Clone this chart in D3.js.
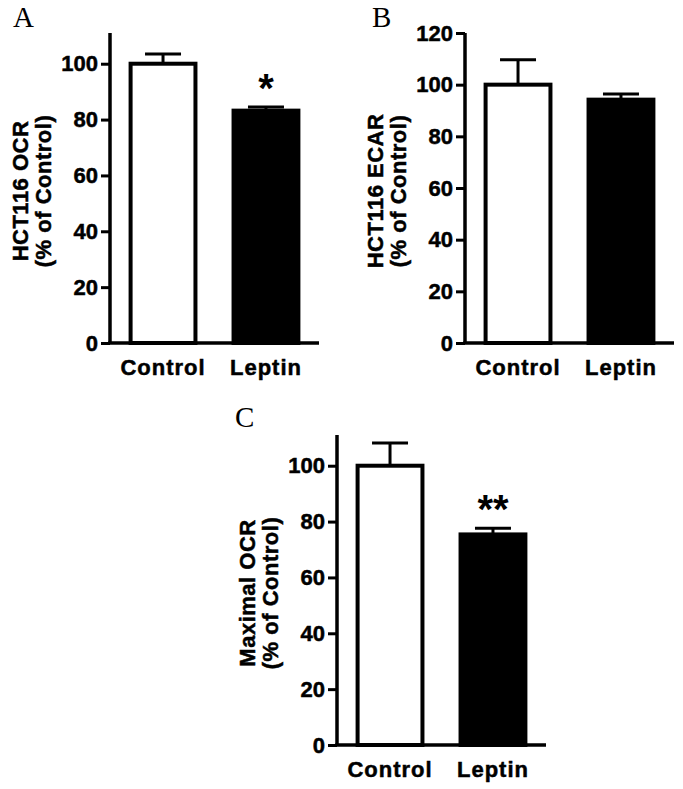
<!DOCTYPE html>
<html>
<head>
  <meta charset="utf-8">
  <title>HCT116 OCR / ECAR</title>
  <style>
    body { margin: 0; background: #fff; }
    svg text { fill: #000; }
    .tick-label { font-family: "Liberation Sans", Arial, sans-serif; font-weight: bold; font-size: 22px; stroke: #000; stroke-width: 0.5px; }
    .cat-label { font-family: "Liberation Sans", Arial, sans-serif; font-weight: bold; font-size: 22px; letter-spacing: 1px; stroke: #000; stroke-width: 0.5px; }
    .y-label { font-family: "Liberation Sans", Arial, sans-serif; font-weight: bold; font-size: 22px; letter-spacing: 0.5px; stroke: #000; stroke-width: 0.5px; }
    .panel-letter { font-family: "Liberation Serif", "Times New Roman", serif; font-size: 29px; }
    .star { font-family: "Liberation Sans", Arial, sans-serif; font-weight: bold; font-size: 40px; }
  </style>
</head>
<body>
  <div id="chart"></div>
  <script src="https://d3js.org/d3.v7.min.js"></script>
  <script>
    // data
    var categories = ["Control", "Leptin"];
    var barFills = ["#fff", "#000"];

    var ocrMeans = [100, 83.2];
    var ocrErrors = [3.5, 1.3];
    var ecarMeans = [100, 94.2];
    var ecarErrors = [9.6, 2.2];
    var maxOcrMeans = [100, 75.4];
    var maxOcrErrors = [8.1, 2.2];

    var ticks100 = [0, 20, 40, 60, 80, 100];
    var ticks120 = [0, 20, 40, 60, 80, 100, 120];

    var width = 683,
      height = 789;

    // plot area size shared by the three panels
    var pw = 209,
      ph = 310;

    var svg = d3.select("#chart").append("svg")
      .attr("width", width)
      .attr("height", height);

    var panels = [
      { letter: "A", x: 110, y: 33, yMax: 111, ticks: ticks100, means: ocrMeans, errors: ocrErrors,
        title: ["HCT116 OCR", "(% of Control)"], stars: ["", "*"] },
      { letter: "B", x: 465, y: 33, yMax: 120, ticks: ticks120, means: ecarMeans, errors: ecarErrors,
        title: ["HCT116 ECAR", "(% of Control)"], stars: ["", ""] },
      { letter: "C", x: 337, y: 435, yMax: 111, ticks: ticks100, means: maxOcrMeans, errors: maxOcrErrors,
        title: ["Maximal OCR", "(% of Control)"], stars: ["", "**"] }
    ];

    function drawPanel(p) {
      var g = svg.append("g")
        .attr("transform", "translate(" + p.x + "," + p.y + ")");

      var x = d3.scaleBand()
        .domain(categories)
        .range([0, pw])
        .paddingInner(0.37)
        .paddingOuter(0.2);

      var y = d3.scaleLinear()
        .domain([0, p.yMax])
        .range([ph, 0]);

      var rows = categories.map(function(c, i) {
        return { cat: c, mean: p.means[i], err: p.errors[i], fill: barFills[i], star: p.stars[i] };
      });

      // error bars (drawn first so the white bar covers the lower stem)
      var eb = g.selectAll(".err").data(rows).enter().append("g")
        .attr("class", "err")
        .attr("stroke", "#000")
        .attr("stroke-width", 3);
      eb.append("line")
        .attr("x1", function(d) { return x(d.cat) + x.bandwidth() / 2; })
        .attr("x2", function(d) { return x(d.cat) + x.bandwidth() / 2; })
        .attr("y1", function(d) { return y(d.mean); })
        .attr("y2", function(d) { return y(d.mean + d.err); });
      eb.append("line")
        .attr("x1", function(d) { return x(d.cat) + x.bandwidth() / 2 - 18; })
        .attr("x2", function(d) { return x(d.cat) + x.bandwidth() / 2 + 18; })
        .attr("y1", function(d) { return y(d.mean + d.err); })
        .attr("y2", function(d) { return y(d.mean + d.err); });

      g.selectAll(".bar").data(rows).enter().append("rect")
        .attr("class", "bar")
        .attr("x", function(d) { return x(d.cat); })
        .attr("width", x.bandwidth())
        .attr("y", function(d) { return y(d.mean); })
        .attr("height", function(d) { return y(0) - y(d.mean); })
        .attr("fill", function(d) { return d.fill; })
        .attr("stroke", "#000")
        .attr("stroke-width", 4);

      // significance marks
      g.selectAll(".star").data(rows.filter(function(d) { return d.star; })).enter().append("text")
        .attr("class", "star")
        .attr("x", function(d) { return x(d.cat) + x.bandwidth() / 2; })
        .attr("y", function(d) { return y(d.mean + d.err) - 5; })
        .attr("text-anchor", "middle")
        .text(function(d) { return d.star; });

      // y axis
      var yAxis = g.append("g")
        .call(d3.axisLeft(y).tickValues(p.ticks).tickSize(9).tickPadding(3).tickFormat(d3.format("d")));
      yAxis.select(".domain")
        .attr("d", "M0,0V" + ph)
        .attr("stroke-width", 3.5);
      yAxis.selectAll(".tick line").attr("stroke-width", 3);
      yAxis.selectAll(".tick text")
        .attr("class", "tick-label")
        .attr("font-family", null)
        .attr("font-size", null);

      // x axis: plain line, no ticks
      g.append("line")
        .attr("x1", -1.75)
        .attr("x2", pw)
        .attr("y1", ph)
        .attr("y2", ph)
        .attr("stroke", "#000")
        .attr("stroke-width", 3.5);

      g.selectAll(".cat-label").data(categories).enter().append("text")
        .attr("class", "cat-label")
        .attr("x", function(d) { return x(d) + x.bandwidth() / 2; })
        .attr("y", ph + 32)
        .attr("text-anchor", "middle")
        .text(function(d) { return d; });

      // two-line rotated y title
      g.selectAll(".y-label").data(p.title).enter().append("text")
        .attr("class", "y-label")
        .attr("transform", function(d, i) {
          return "translate(" + (i === 0 ? -90 : -67) + "," + (ph / 2 + 3) + ") rotate(-90)";
        })
        .attr("dy", "0.35em")
        .attr("text-anchor", "middle")
        .text(function(d) { return d; });

      svg.append("text")
        .attr("class", "panel-letter")
        .attr("x", p.letter === "C" ? 235 : p.x - (p.letter === "A" ? 97 : 93))
        .attr("y", p.letter === "C" ? 427 : 27)
        .text(p.letter);
    }

    panels.forEach(drawPanel);
  </script>
</body>
</html>
